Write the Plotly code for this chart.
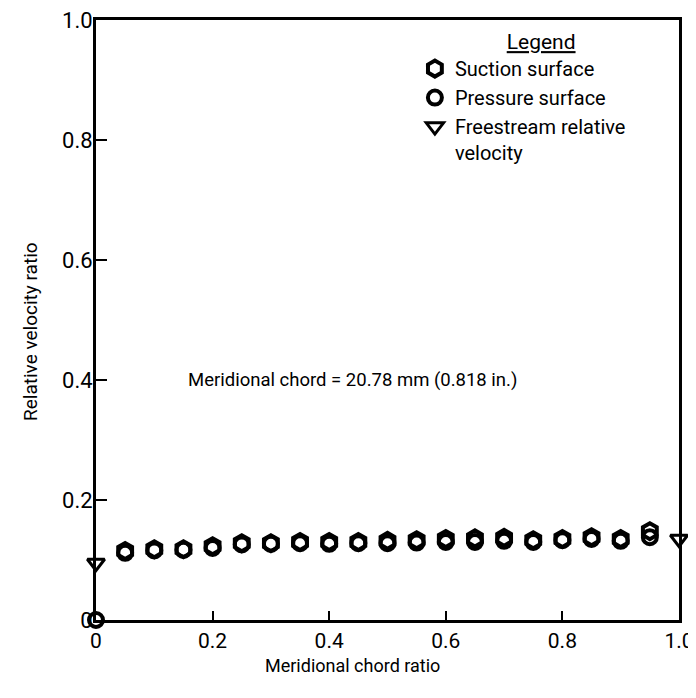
import plotly.graph_objects as go

x_ratio = [0.05, 0.10, 0.15, 0.20, 0.25, 0.30, 0.35, 0.40, 0.45, 0.50,
           0.55, 0.60, 0.65, 0.70, 0.75, 0.80, 0.85, 0.90, 0.95]
suction = [0.115, 0.118, 0.118, 0.123, 0.128, 0.128, 0.130, 0.130, 0.130, 0.132,
           0.133, 0.135, 0.136, 0.137, 0.133, 0.135, 0.138, 0.135, 0.148]
pressure = [0.112, 0.116, 0.117, 0.120, 0.126, 0.127, 0.128, 0.127, 0.128, 0.128,
            0.129, 0.130, 0.130, 0.132, 0.130, 0.133, 0.135, 0.132, 0.138]
stag_x = [0.0]
stag_y = [0.0]
free_x = [0.0, 1.0]
free_y = [0.095, 0.135]
tick_vals = [0, 0.2, 0.4, 0.6, 0.8, 1.0]
x_tick_text = ["0", "0.2", "0.4", "0.6", "0.8", "1.0"]
y_tick_text = ["0", "0.2", "0.4", "0.6", "0.8", "1.0"]

FONT = "Roboto, Liberation Sans Narrow, DejaVu Sans Condensed, sans-serif"

fig = go.Figure()
fig.add_trace(go.Scatter(
    x=x_ratio, y=suction, mode="markers", name="Suction surface",
    marker=dict(symbol="hexagon-open", size=16, color="black", line=dict(width=4, color="black")),
    cliponaxis=False))
fig.add_trace(go.Scatter(
    x=x_ratio + stag_x, y=pressure + stag_y, mode="markers", name="Pressure surface",
    marker=dict(symbol="circle-open", size=14, color="black", line=dict(width=4, color="black")),
    cliponaxis=False))
fig.add_trace(go.Scatter(
    x=free_x, y=free_y, mode="markers", name="Freestream relative<br>velocity",
    marker=dict(symbol="triangle-down-open", size=15, color="black", line=dict(width=3, color="black")),
    cliponaxis=False))

fig.add_annotation(
    x=0.44, y=0.40, xref="x", yref="y", text="Meridional chord = 20.78 mm (0.818 in.)",
    showarrow=False, font=dict(family=FONT, size=18.5, color="black"))
fig.add_annotation(
    x=0, y=0.48, xref="paper", yref="paper", xshift=-66, textangle=-90,
    xanchor="center", yanchor="middle",
    text="Relative velocity ratio", showarrow=False,
    font=dict(family=FONT, size=19, color="black"))
fig.add_annotation(
    x=0.44, y=0, xref="paper", yref="paper", yshift=-45,
    xanchor="center", yanchor="middle",
    text="Meridional chord ratio", showarrow=False,
    font=dict(family=FONT, size=18, color="black"))

fig.update_xaxes(
    range=[0, 1], tickvals=tick_vals, ticktext=x_tick_text,
    ticks="inside", ticklen=9, tickwidth=2, tickcolor="black",
    showline=True, linewidth=3, linecolor="black", mirror=True,
    showgrid=False, zeroline=False, automargin=False,
    ticklabeloverflow="allow",
    tickfont=dict(family=FONT, size=21, color="black"))
fig.update_yaxes(
    range=[0, 1], tickvals=tick_vals, ticktext=y_tick_text,
    ticks="inside", ticklen=11, tickwidth=2, tickcolor="black",
    showline=True, linewidth=3, linecolor="black", mirror=True,
    showgrid=False, zeroline=False, automargin=False,
    ticklabelstandoff=-4, ticklabeloverflow="allow",
    tickfont=dict(family=FONT, size=22, color="black"))

fig.update_layout(
    width=688, height=670,
    margin=dict(l=88, r=17, t=12, b=58),
    plot_bgcolor="white", paper_bgcolor="white",
    font=dict(family=FONT, color="black"),
    legend=dict(
        x=0.547, y=0.997, xanchor="left", yanchor="top",
        bgcolor="rgba(0,0,0,0)", borderwidth=0,
        font=dict(family=FONT, size=20, color="black"),
        title=dict(text="&nbsp;&nbsp;&nbsp;&nbsp;&nbsp;&nbsp;&nbsp;<u>Legend</u>", side="top center",
                   font=dict(family=FONT, size=21, color="black")),
        valign="top", itemwidth=30, tracegroupgap=0),
)

fig.write_html("out.html")
